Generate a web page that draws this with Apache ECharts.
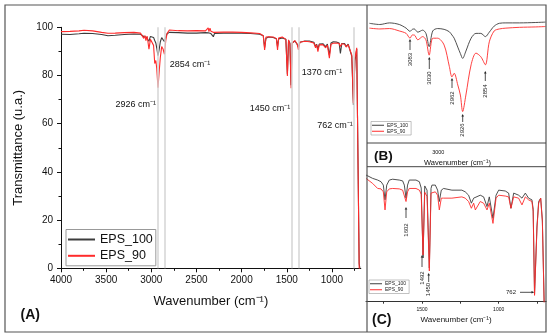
<!DOCTYPE html>
<html><head><meta charset="utf-8">
<script src="https://cdn.jsdelivr.net/npm/echarts@6/dist/echarts.min.js"></script>
<style>html,body{margin:0;padding:0;background:#fff}#c{width:550px;height:336px}</style>
</head><body><div id="c"></div>
<script>
// ---------- data ----------
const seriesNames = ['EPS_100', 'EPS_90'];

// Panel (A): full spectrum
const mainWave = [4000,3900,3800,3745,3650,3550,3480,3400,3300,3192,3120,3083,3070,3060,3045,3026,3010,2995,2975,2962,2950,2940,2926,2912,2900,2885,2870,2854,2840,2825,2800,2700,2600,2500,2400,2370,2362,2350,2340,2313,2300,2200,2100,2000,1900,1800,1760,1745,1730,1700,1650,1615,1602,1590,1550,1510,1493,1480,1465,1452,1440,1410,1385,1370,1355,1300,1250,1200,1181,1170,1155,1140,1100,1069,1050,1028,1010,985,950,920,906,890,860,842,820,800,780,762,745,725,712,698,690];
const mainEPS100 = [97.1,97.0,97.3,97.5,97.4,97.0,96.5,96.7,97.0,97.2,97.1,96.2,96.6,96.0,96.6,94.2,96.2,96.4,95.8,94.5,93.5,91.5,88.2,91.0,94.0,95.7,95.5,94.0,96.0,97.3,97.9,97.8,97.6,97.6,97.8,97.7,97.5,97.6,97.4,96.1,97.4,97.6,97.6,97.5,97.4,97.1,96.5,91.5,95.5,96.0,95.8,95.2,92.0,95.2,95.6,95.0,80.5,94.5,93.5,76.0,93.5,94.3,93.0,91.8,93.8,94.3,94.3,93.8,92.0,93.0,91.0,93.0,93.2,92.0,93.0,88.5,93.5,94.0,93.9,93.5,89.2,93.3,93.3,92.0,93.0,92.5,88.0,67.8,86.0,91.0,91.2,2.0,0];
const mainEPS90 = [98.2,98.3,98.5,98.8,98.5,97.9,97.5,97.6,97.8,97.9,97.6,95.4,96.6,94.5,96.3,90.9,95.0,95.4,92.5,85.0,86.2,83.0,74.9,82.0,87.5,92.0,91.0,88.8,94.5,97.5,98.9,98.6,98.5,98.6,98.5,99.8,98.2,99.6,98.4,97.9,97.9,98.0,98.0,97.9,97.7,97.4,96.5,90.6,96.0,96.1,96.0,95.3,90.6,95.5,96.0,95.0,79.8,94.8,93.0,74.7,93.5,94.5,93.0,90.6,93.8,94.2,94.0,93.5,91.5,92.8,89.9,92.7,92.8,91.5,92.6,87.2,93.0,93.4,93.5,93.3,92.0,93.2,93.0,91.8,92.8,92.0,88.5,68.5,87.0,91.5,91.5,0,0];
const mainTickLabels = [4000,3500,3000,2500,2000,1500,1000];
const mainMinorTicks = [3750,3250,2750,2250,1750,1250,750];
const markedPeaks = [2926,2854,1450,1370,762];
const markedPeakLabels = ['2926 cm⁻¹','2854 cm⁻¹','1450 cm⁻¹','1370 cm⁻¹','762 cm⁻¹'];

// Panel (B): 3200-2670 cm-1 zoom
const bWave = [3212,3180,3150,3120,3099,3087,3080,3074,3063,3048,3038,3028,3017,3002,2982,2966,2958,2951,2940,2932,2925,2915,2899,2884,2869,2855,2843,2828,2812,2792,2750,2700,2670];
const bEPS100 = [96.7,96.4,96.8,96.4,95.5,94.7,95.2,95.3,94.5,95.0,94.2,90.9,94.8,95.4,95.2,94.6,93.8,93.0,90.8,89.2,88.0,89.8,93.0,94.2,94.2,93.4,94.5,96.0,96.7,96.8,96.8,96.9,97.0];
const bEPS90 = [95.5,95.3,95.4,94.8,94.2,93.0,93.8,93.8,92.6,93.4,92.6,88.8,93.0,93.0,91.3,86.0,83.4,84.3,81.4,78.9,74.8,78.9,86.4,89.3,88.4,86.4,92.1,94.8,95.3,95.5,95.7,95.8,95.9];
const bTickLabels = [3000];
const bPeakLabels = ['3083','3030','2962','2926','2854'];

// Panel (C): 1865-690 cm-1 zoom
const cWave = [1865,1822,1789,1767,1752,1741,1730,1713,1691,1648,1626,1615,1604,1594,1583,1539,1517,1505,1493,1482,1467,1452,1441,1435,1413,1398,1387,1374,1359,1305,1240,1218,1196,1178,1163,1152,1120,1098,1076,1061,1048,1037,1017,1000,957,935,920,902,870,848,826,805,783,775,766,750,739,726,715,700,690];
const cEPS100 = [96.1,95.3,94.9,94.5,93.7,90.2,93.7,94.9,95.1,94.9,94.7,93.7,90.6,93.7,94.9,94.9,94.5,93.0,76.4,93.5,92.5,74.0,92.9,93.7,93.7,92.5,89.8,92.5,92.9,92.5,92.5,92.1,91.3,89.4,90.6,90.2,91.3,90.9,88.6,90.9,90.6,85.8,91.3,92.5,92.3,91.8,88.2,91.8,91.3,90.6,91.8,90.6,90.2,88.0,67.8,84.0,89.8,90.6,85.4,60,55];
const cEPS90 = [95.3,94.1,92.9,92.8,92.1,87.8,92.1,92.8,92.9,92.8,92.5,92.1,89.8,92.1,92.9,92.9,92.5,91.5,77.1,92.0,91.0,73.3,91.8,92.1,92.1,91.3,87.8,90.6,90.6,90.6,90.9,90.6,89.8,88.2,89.4,87.8,89.8,89.4,87.8,89.4,89.0,84.6,90.6,91.3,91.1,90.9,88.2,90.9,90.6,89.0,90.9,90.2,89.8,87.5,67.5,83.5,89.4,90.6,85.0,60,55];
const cTicks = [1750,1500,1250,1000,750];
const cTickLabels = [1500,1000];
const cPeakLabels = ['1602','1492','1450','762'];

// ---------- chart ----------
const zip = (w, v) => w.map((x, i) => [x, v[i]]);
const plain = v => String(v);
const FONT = 'Liberation Sans, Arial, sans-serif';
const BLACK = '#3c3c3c', RED = '#ff2b2b';
const chart = echarts.init(document.getElementById('c'), null, {renderer: 'canvas'});

function vArrow(x, tip, tail) {
  return [
    {type: 'line', shape: {x1: x, y1: tail, x2: x, y2: tip + 2}, style: {stroke: '#222', lineWidth: 0.8}},
    {type: 'polygon', shape: {points: [[x - 1.3, tip + 2.6], [x + 1.3, tip + 2.6], [x, tip]]}, style: {fill: '#222'}}
  ];
}
function vText(x, y, t) {
  return {type: 'text', x: x, y: y, rotation: Math.PI / 2,
    style: {text: t, fontSize: 6, fontFamily: FONT, fill: '#222', align: 'center', verticalAlign: 'middle'}};
}
function txt(x, y, t, size, bold, align) {
  return {type: 'text', x: x, y: y,
    style: {text: t, fontSize: size, fontWeight: bold ? 'bold' : 'normal', fontFamily: FONT, fill: '#111',
      align: align || 'center', verticalAlign: 'middle'}};
}

const graphics = [
  {type: 'rect', shape: {x: 5, y: 5, width: 541, height: 327}, style: {fill: 'none', stroke: '#555', lineWidth: 1.2}, z: 10},
  {type: 'line', shape: {x1: 367, y1: 5, x2: 367, y2: 332}, style: {stroke: '#555', lineWidth: 1.2}, z: 10},
  {type: 'line', shape: {x1: 367, y1: 143, x2: 546, y2: 143}, style: {stroke: '#444', lineWidth: 1}, z: 10},
  {type: 'line', shape: {x1: 367, y1: 166.7, x2: 546, y2: 166.7}, style: {stroke: '#444', lineWidth: 1}, z: 10},
  txt(20.5, 315, '(A)', 14, true, 'left'),
  txt(374, 156.7, '(B)', 13.5, true, 'left'),
  txt(372, 320, '(C)', 14, true, 'left'),
  // main annotations
  txt(135.7, 104.3, markedPeakLabels[0], 9),
  txt(190, 64.3, markedPeakLabels[1], 9),
  txt(270, 108.3, markedPeakLabels[2], 9),
  txt(322, 72.3, markedPeakLabels[3], 9),
  txt(335, 125.7, markedPeakLabels[4], 9),
  // B annotations
  ...vArrow(410, 39, 50), vText(410, 59.5, bPeakLabels[0]),
  ...vArrow(429.3, 57, 69), vText(429.3, 78, bPeakLabels[1]),
  ...vArrow(452, 78, 88), vText(452, 98, bPeakLabels[2]),
  ...vArrow(462.7, 114, 122), vText(462.7, 130, bPeakLabels[3]),
  ...vArrow(485.3, 71, 81), vText(485.3, 91, bPeakLabels[4]),
  // C annotations
  ...vArrow(406, 207, 218), vText(406, 230, cPeakLabels[0]),
  ...vArrow(422, 255, 267), vText(422, 278, cPeakLabels[1]),
  ...vArrow(428.7, 273, 282), vText(428.7, 289.5, cPeakLabels[2]),
  {type: 'line', shape: {x1: 520, y1: 292.3, x2: 532, y2: 292.3}, style: {stroke: '#222', lineWidth: 0.8}},
  {type: 'polygon', shape: {points: [[531.5, 291], [531.5, 293.6], [534.3, 292.3]]}, style: {fill: '#222'}},
  {type: 'text', x: 516, y: 292.3, style: {text: cPeakLabels[3], fontSize: 6, fontFamily: FONT, fill: '#222', align: 'right', verticalAlign: 'middle'}}
];

const smallLegend = (left, top) => ({
  data: seriesNames, orient: 'vertical', left: left, top: top, icon: 'rect',
  itemWidth: 12, itemHeight: 1, itemGap: 0.5, padding: [1, 3, 1, 1],
  borderColor: '#999', borderWidth: 0.6,
  textStyle: {fontSize: 5, lineHeight: 5.5, fontFamily: FONT, color: '#222', padding: [0, 0, 0, -2]}
});

const option = {
  animation: false,
  backgroundColor: '#fff',
  textStyle: {fontFamily: FONT},
  grid: [
    {left: 61, right: 189.2, top: 27.3, bottom: 67.7},
    {left: 369.4, right: 4.5, top: 10, bottom: 193},
    {left: 366, right: 3.8, top: 167, bottom: 34.3}
  ],
  legend: [
    {data: seriesNames, orient: 'vertical', left: 66, top: 229.5, icon: 'rect',
      itemWidth: 27, itemHeight: 2, itemGap: 2.3, padding: [3, 3, 3, 2],
      borderColor: '#999', borderWidth: 1,
      textStyle: {fontSize: 12.5, lineHeight: 14, fontFamily: FONT, color: '#111'}},
    smallLegend(371, 121.5),
    smallLegend(369, 280)
  ],
  xAxis: [
    {gridIndex: 0, type: 'value', min: 680, max: 4000, inverse: true,
      name: 'Wavenumber (cm⁻¹)', nameLocation: 'middle', nameGap: 27,
      nameTextStyle: {fontSize: 13, color: '#111', fontFamily: FONT},
      axisLine: {lineStyle: {color: '#111', width: 1}},
      axisTick: {customValues: mainTickLabels, length: 4, lineStyle: {color: '#111'}},
      axisLabel: {customValues: mainTickLabels, formatter: plain, fontSize: 10, color: '#111', margin: 7},
      splitLine: {show: false}},
    {gridIndex: 0, type: 'value', min: 680, max: 4000, inverse: true, position: 'bottom',
      axisLine: {show: false},
      axisTick: {customValues: mainMinorTicks, length: 2.5, lineStyle: {color: '#111'}},
      axisLabel: {show: false}, splitLine: {show: false}},
    {gridIndex: 1, type: 'value', min: 2670, max: 3212, inverse: true,
      name: 'Wavenumber (cm⁻¹)', nameLocation: 'middle', nameGap: 16,
      nameTextStyle: {fontSize: 7.5, color: '#111', fontFamily: FONT},
      axisLine: {show: false}, axisTick: {show: false},
      axisLabel: {customValues: bTickLabels, formatter: plain, fontSize: 5.5, color: '#111', margin: 6},
      splitLine: {show: false}},
    {gridIndex: 2, type: 'value', min: 690, max: 1865, inverse: true,
      name: 'Wavenumber (cm⁻¹)', nameLocation: 'middle', nameGap: 14,
      nameTextStyle: {fontSize: 8, color: '#111', fontFamily: FONT},
      axisLine: {lineStyle: {color: '#333', width: 1}},
      axisTick: {customValues: cTicks, length: 2, lineStyle: {color: '#333'}},
      axisLabel: {customValues: cTickLabels, formatter: plain, fontSize: 5, color: '#111', margin: 5},
      splitLine: {show: false}}
  ],
  yAxis: [
    {gridIndex: 0, type: 'value', min: 0, max: 100, interval: 20,
      name: 'Transmittance (u.a.)', nameLocation: 'middle', nameGap: 28,
      nameTextStyle: {fontSize: 13, color: '#111', fontFamily: FONT},
      axisLine: {show: true, lineStyle: {color: '#111', width: 1}},
      axisTick: {show: true, length: 4, lineStyle: {color: '#111'}},
      minorTick: {show: true, splitNumber: 2, length: 2.5, lineStyle: {color: '#111'}},
      axisLabel: {fontSize: 10, color: '#111', margin: 8},
      splitLine: {show: false}},
    {gridIndex: 1, type: 'value', min: 67, max: 100, show: false, splitLine: {show: false}},
    {gridIndex: 2, type: 'value', min: 66, max: 98, show: false, splitLine: {show: false}}
  ],
  series: [
    {type: 'line', xAxisIndex: 0, yAxisIndex: 0, data: [], z: 1, silent: true,
      markLine: {silent: true, symbol: 'none', animation: false, label: {show: false},
        lineStyle: {color: '#d4d4d4', width: 1.5, type: 'solid'},
        data: markedPeaks.map(v => ({xAxis: v}))}},
    {name: seriesNames[0], type: 'line', xAxisIndex: 0, yAxisIndex: 0, data: zip(mainWave, mainEPS100),
      symbol: 'none', z: 2, color: BLACK, lineStyle: {width: 1.1, color: BLACK}},
    {name: seriesNames[1], type: 'line', xAxisIndex: 0, yAxisIndex: 0, data: zip(mainWave, mainEPS90),
      symbol: 'none', z: 3, color: RED, lineStyle: {width: 1.1, color: RED}},
    {name: seriesNames[0], type: 'line', xAxisIndex: 2, yAxisIndex: 1, data: zip(bWave, bEPS100),
      symbol: 'none', smooth: 0.3, color: BLACK, lineStyle: {width: 0.9, color: BLACK}},
    {name: seriesNames[1], type: 'line', xAxisIndex: 2, yAxisIndex: 1, data: zip(bWave, bEPS90),
      symbol: 'none', smooth: 0.3, color: RED, lineStyle: {width: 0.9, color: RED}},
    {name: seriesNames[0], type: 'line', xAxisIndex: 3, yAxisIndex: 2, data: zip(cWave, cEPS100),
      symbol: 'none', color: BLACK, lineStyle: {width: 0.9, color: BLACK}},
    {name: seriesNames[1], type: 'line', xAxisIndex: 3, yAxisIndex: 2, data: zip(cWave, cEPS90),
      symbol: 'none', color: RED, lineStyle: {width: 0.9, color: RED}}
  ],
  graphic: graphics
};
chart.setOption(option);
</script>
</body></html>
